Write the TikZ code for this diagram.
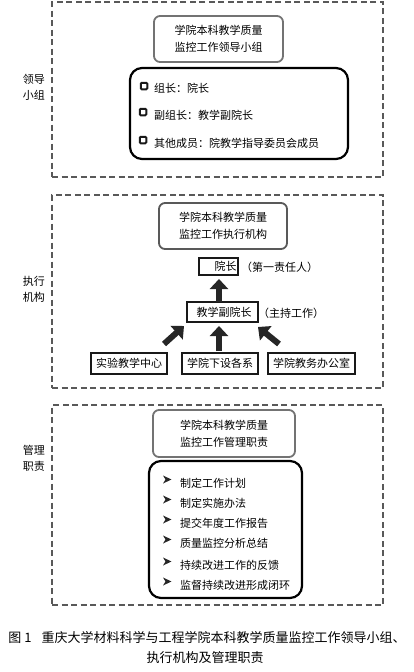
\documentclass[tikz,border=0pt]{standalone}
\usepackage{fontspec}
\setmainfont{Noto Sans CJK SC}
\usetikzlibrary{arrows.meta}
\begin{document}
\begin{tikzpicture}[x=1pt,y=-1pt,
  panel/.style={draw=black!65, line width=1.4pt, dash pattern=on 6pt off 3.5pt, inner sep=0pt},
  titlebox/.style={draw=black!55, line width=1.8pt, rounded corners=6pt, align=center, font=\fontsize{11}{17}\selectfont, inner sep=0pt},
  listbox/.style={draw=black, line width=2.2pt, rounded corners=12pt, inner sep=0pt},
  rolebox/.style={draw=black!90, line width=2.3pt, inner sep=0pt, font=\fontsize{11}{13}\selectfont},
  txt/.style={font=\fontsize{11}{13}\selectfont, inner sep=0pt},
  sidelabel/.style={font=\fontsize{11}{16}\selectfont, align=center, inner sep=0pt},
  sqbullet/.style={draw=black!90, line width=2pt, minimum size=6.5pt, inner sep=0pt, fill=white, rounded corners=1pt},
  bigarrow/.style={draw=black!85, line width=6pt, -{Triangle[width=18pt,length=10pt]}},
  abul/.pic={\fill[black!85] (4.5,0) -- (-4,-4) -- (-1.5,0) -- (-4,4) -- cycle;},
  captxt/.style={font=\fontsize{13}{15}\selectfont, inner sep=0pt}
]
\useasboundingbox (0,0) rectangle (414,672);

% ---------- Panel 1 ----------
\node[panel, minimum width=331, minimum height=175] (p1) at (217.5,89.5) {};
\node[sidelabel] (l1) at (34,87.5) {领导\\小组};
\node[titlebox, minimum width=129, minimum height=46] (t1) at (218.5,39) {学院本科教学质量\\监控工作领导小组};
\node[listbox, minimum width=218, minimum height=91] (b1) at (239,113.5) {};
\node[sqbullet] (s1) at (144,86) {};
\node[sqbullet] (s2) at (143,112) {};
\node[sqbullet] (s3) at (143,140) {};
\node[txt, anchor=west] (i1) at (154,88) {组长：院长};
\node[txt, anchor=west] (i2) at (154,115) {副组长：教学副院长};
\node[txt, anchor=west] (i3) at (154,143) {其他成员：院教学指导委员会成员};

% ---------- Panel 2 ----------
\node[panel, minimum width=331, minimum height=193] (p2) at (217.5,291.5) {};
\node[sidelabel] (l2) at (34,289) {执行\\机构};
\node[titlebox, draw=black!65, minimum width=128, minimum height=46] (t2) at (223,226) {学院本科教学质量\\监控工作执行机构};
\node[rolebox, minimum width=39, minimum height=17, text width=36, align=right] (yz) at (218.5,266.5) {院长};
\node[txt, anchor=west] (yzn) at (241,267) {（第一责任人）};
\node[rolebox, minimum width=71, minimum height=20] (fy) at (222.5,312) {\hspace{3pt}教学副院长};
\node[txt, anchor=west] (fyn) at (258,313) {（主持工作）};
\node[rolebox, minimum width=76, minimum height=21] (sy) at (129,363.5) {实验教学中心};
\node[rolebox, minimum width=76, minimum height=21] (xi) at (220,363.5) {学院下设各系};
\node[rolebox, minimum width=87, minimum height=21] (jw) at (311.5,363.5) {学院教务办公室};

\coordinate (a0s) at (219,302);
\coordinate (a0e) at (219,279);
\coordinate (a1s) at (164,344);
\coordinate (a1e) at (184,326);
\coordinate (a2s) at (219,351);
\coordinate (a2e) at (219,326);
\coordinate (a3s) at (279,344);
\coordinate (a3e) at (258,327);
\draw[bigarrow] (a0s) -- (a0e);
\draw[bigarrow] (a1s) -- (a1e);
\draw[bigarrow] (a2s) -- (a2e);
\draw[bigarrow] (a3s) -- (a3e);

% ---------- Panel 3 ----------
\node[panel, minimum width=331, minimum height=200] (p3) at (217.5,505) {};
\node[sidelabel] (l3) at (34,458) {管理\\职责};
\node[titlebox, minimum width=142, minimum height=47] (t3) at (224,433.5) {学院本科教学质量\\监控工作管理职责};
\node[listbox, minimum width=153, minimum height=137] (b3) at (225.5,529.5) {};
\foreach \yy/\tt [count=\k] in {483/制定工作计划,503/制定实施办法,523/提交年度工作报告,543/质量监控分析总结,565/持续改进工作的反馈,585/监督持续改进形成闭环}{
  \pic at (167,\yy-3.5) {abul};
  \node[txt, anchor=west] (m\k) at (180,\yy) {\tt};
}

% ---------- Caption ----------
\node[captxt] (c1) at (207,638) {图 1\hspace{10pt}重庆大学材料科学与工程学院本科教学质量监控工作领导小组、};
\node[captxt] (c2) at (205,658) {执行机构及管理职责};
\end{tikzpicture}
\end{document}
